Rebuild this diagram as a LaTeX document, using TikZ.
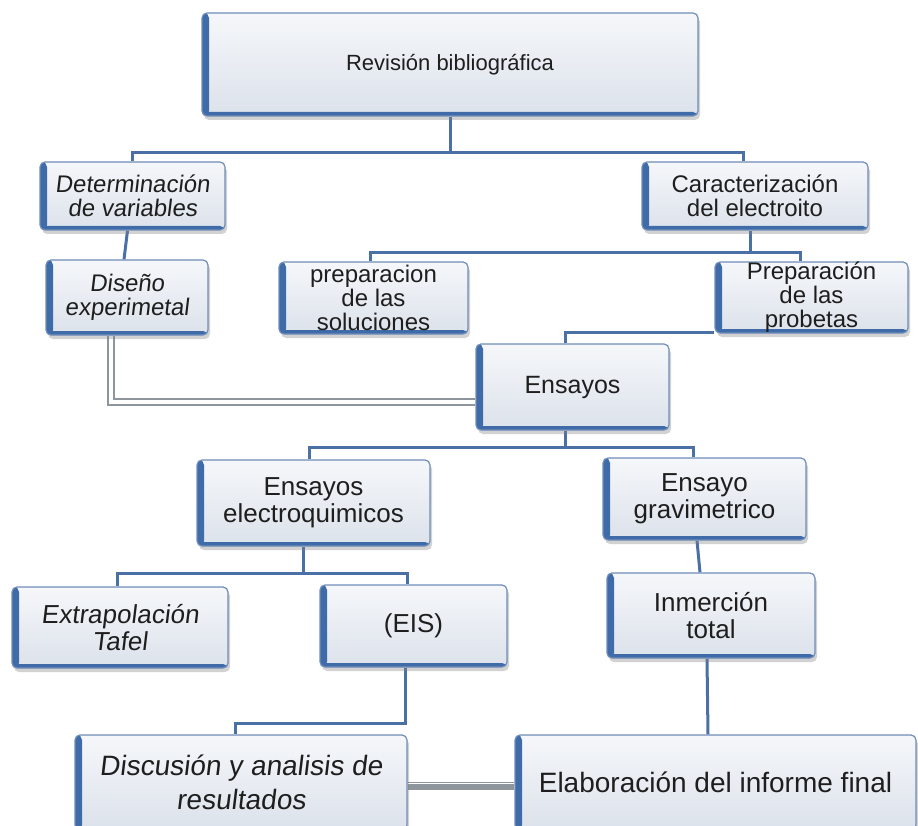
\documentclass[tikz,border=0pt]{standalone}
\usepackage{fontspec}
\setmainfont{Liberation Sans}
\newfontfamily\slfont[FakeSlant=0.12]{Liberation Sans}
\usetikzlibrary{shadows,calc}
\definecolor{edgeblue}{HTML}{3F6CA8}
\definecolor{boxline}{HTML}{6F8DB8}
\definecolor{boxtop}{HTML}{F5F7FA}
\definecolor{boxbot}{HTML}{DCE2EB}
\definecolor{connblue}{HTML}{4B70A6}
\definecolor{pipegray}{HTML}{8E959D}
\definecolor{textcol}{HTML}{1E1E1E}
\newcommand\fsR{\fontsize{22}{24}\selectfont}
\newcommand\fsA{\fontsize{24}{24}\selectfont}
\newcommand\fsE{\fontsize{25}{26}\selectfont}
\newcommand\fsB{\fontsize{26}{27}\selectfont}
\newcommand\fsC{\fontsize{28}{34}\selectfont}
\pgfdeclarelayer{back}
\pgfdeclarelayer{bg}
\pgfsetlayers{back,bg,main}
\tikzset{
  sbox/.style={rounded corners=5pt, draw=boxline, line width=1.2pt,
    top color=boxtop, bottom color=boxbot, inner sep=0pt, align=center, text=textcol,
    drop shadow={shadow xshift=2pt, shadow yshift=-4pt, fill=black!50, opacity=0.35},
    path picture={
      \fill[edgeblue] (path picture bounding box.south west) rectangle ([xshift=7pt]path picture bounding box.north west);
      \fill[edgeblue] (path picture bounding box.south west) rectangle ([yshift=4pt]path picture bounding box.south east);
    }},
  conn/.style={draw=connblue, line width=3pt},
  pipeo/.style={draw=pipegray, line width=8pt},
  pipei/.style={draw=white, line width=4pt}
}
\begin{document}
\begin{tikzpicture}[x=1pt,y=-1pt]
\useasboundingbox (0,0) rectangle (918,826);
\begin{pgfonlayer}{back}
\fill[white] (0,0) rectangle (918,826);
\end{pgfonlayer}

\node[sbox, minimum width=496pt, minimum height=103pt, font=\fsR] (rev) at (450,64.5) {Revisión bibliográfica};
\node[sbox, minimum width=185pt, minimum height=68pt, font=\fsA\slfont] (det) at (132.5,196) {Determinación\\de variables};
\node[sbox, minimum width=226pt, minimum height=68pt, font=\fsA] (car) at (755,196) {Caracterización\\del electroito};
\node[sbox, minimum width=162pt, minimum height=75pt, font=\fsA\slfont] (dis) at (127,297.5) {Diseño\\experimetal};
\node[sbox, minimum width=189pt, minimum height=72pt, font=\fsA] (sol) at (373.5,298) {preparacion\\de las\\soluciones};
\node[sbox, minimum width=193pt, minimum height=71pt, font=\fsA] (pro) at (811.5,297.5) {Preparación\\de las\\probetas};
\node[sbox, minimum width=193pt, minimum height=86pt, font=\fsE] (ens) at (572.5,387) {Ensayos};
\node[sbox, minimum width=233pt, minimum height=86pt, font=\fsB] (ele) at (313.5,503) {Ensayos\\electroquimicos};
\node[sbox, minimum width=203pt, minimum height=82pt, font=\fsB] (gra) at (704.5,499) {Ensayo\\gravimetrico};
\node[sbox, minimum width=216pt, minimum height=81pt, font=\fsB\slfont] (taf) at (120,627.5) {Extrapolación\\Tafel};
\node[sbox, minimum width=187pt, minimum height=82pt, font=\fsB] (eis) at (413.5,626) {(EIS)};
\node[sbox, minimum width=208pt, minimum height=85pt, font=\fsB] (inm) at (711,615.5) {Inmerción\\total};
\node[sbox, minimum width=332pt, minimum height=95pt, font=\fsC\slfont] (dsc) at (241,782.5) {Discusión y analisis de\\resultados};
\node[sbox, minimum width=401pt, minimum height=95pt, font=\fsC] (ela) at (715.5,782.5) {Elaboración del informe final};

\begin{pgfonlayer}{bg}
\draw[conn] (rev.south) -- ++(0,36) -| (det.north);
\draw[conn] (rev.south) ++(0,36) -| ([xshift=-12pt]car.north);
\draw[conn] ([xshift=-5pt]det.south) -- ([xshift=-3pt]dis.north);
\draw[conn] ([xshift=-5pt]car.south) -- ++(0,22) -| ([xshift=-3.5pt]sol.north);
\draw[conn] ([xshift=-5pt]car.south) ++(0,22) -| ([xshift=-11.5pt]pro.north);
\draw[conn] ([yshift=1pt]pro.south west) -| ([xshift=-7.5pt]ens.north);
\draw[pipeo] ([xshift=-16pt]dis.south) |- ([yshift=-15pt]ens.west);
\draw[pipei] ([xshift=-16pt]dis.south) |- ([yshift=-15pt]ens.west);
\draw[conn] ([xshift=-7.5pt]ens.south) -- ++(0,17) -| ([xshift=-4.5pt]ele.north);
\draw[conn] ([xshift=-7.5pt]ens.south) ++(0,17) -| ([xshift=-11.5pt]gra.north);
\draw[conn] ([xshift=-10.5pt]ele.south) -- ++(0,27) -| ([xshift=-3pt]taf.north);
\draw[conn] ([xshift=-10.5pt]ele.south) ++(0,27) -| ([xshift=-6.5pt]eis.north);
\draw[conn] ([xshift=-7.5pt]gra.south) -- ([xshift=-11pt]inm.north);
\draw[conn] ([xshift=-8.5pt]eis.south) -- ++(0,56) -| ([xshift=-6pt]dsc.north);
\draw[conn] ([xshift=-4pt]inm.south) -- ([xshift=-7.5pt]ela.north);
\draw[pipeo] ([yshift=-3.5pt]dsc.east) -- ([yshift=-3.5pt]ela.west);
\draw[draw=white, line width=1.5pt] ([yshift=-1pt]dsc.east) -- ([yshift=-1pt]ela.west);
\end{pgfonlayer}
\end{tikzpicture}
\end{document}
